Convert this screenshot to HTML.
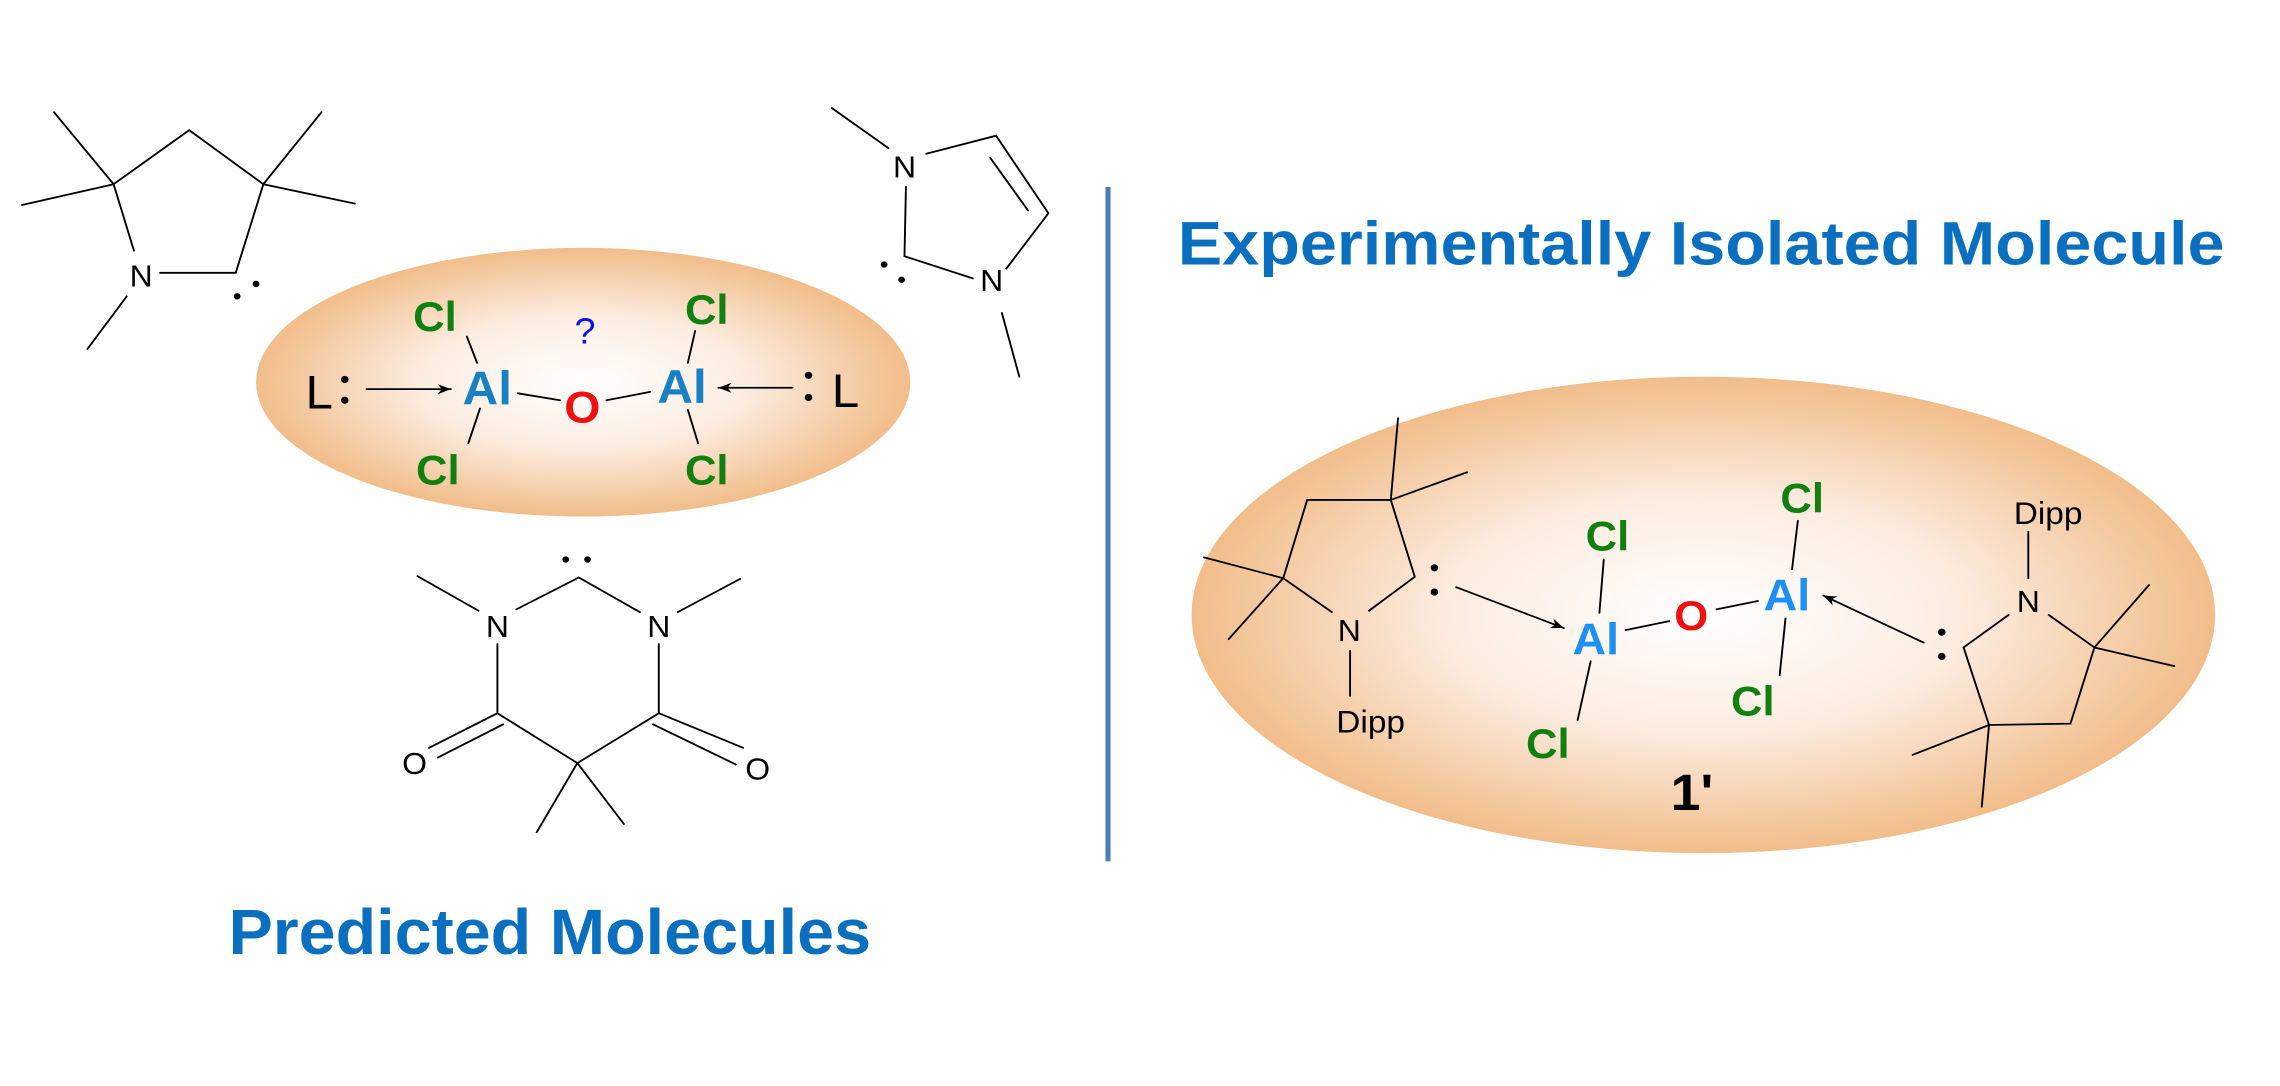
<!DOCTYPE html>
<html><head><meta charset="utf-8"><style>
html,body{margin:0;padding:0;background:#fff}
svg{display:block}
text{font-family:"Liberation Sans",Arial,sans-serif}
.b{stroke:#000;stroke-width:1.3;fill:none;stroke-linecap:round}
.cl{fill:#118011;font-weight:bold}
</style></head><body>
<svg width="2280" height="1086" viewBox="0 0 1568 747" xmlns="http://www.w3.org/2000/svg">
<defs>
<radialGradient id="g" cx="0.5" cy="0.5" r="0.5">
<stop offset="0" stop-color="#ffffff"/>
<stop offset="0.5" stop-color="#fcece0"/>
<stop offset="1" stop-color="#f1bd8a"/>
</radialGradient>
<marker id="ah" viewBox="0 0 10 10" refX="10" refY="5" markerWidth="9" markerHeight="9" orient="auto" markerUnits="userSpaceOnUse"><path d="M0,1 L10,5 L0,9 L3,5Z" fill="#000"/></marker>
</defs>
<g transform="scale(1,0.9526)">
<!-- Left pyrrolidine -->
<g class="b">
<path d="M37,81 L78,133 M15,148 L78,133 M78,133 L130,94 L181,133 L162,197 M110,197 L162,197 M78,133 L92,181 M87,214 L60,252 M181,133 L221,81 M181,133 L244,147"/>
</g>
<text x="97" y="207" font-size="22" text-anchor="middle">N</text>
<circle cx="163" cy="214" r="2.3"/><circle cx="176" cy="205" r="2.3"/>

<!-- Imidazole -->
<g class="b">
<path d="M572,78 L611,107 M637,111 L685,98 L721,154 L692,194 M681,114 L707,152 M623,135 L622,185 L669,201 M689,226 L701,272"/>
</g>
<text x="622" y="128" font-size="22" text-anchor="middle">N</text>
<text x="682" y="210" font-size="22" text-anchor="middle">N</text>
<circle cx="608" cy="191" r="2.3"/><circle cx="620" cy="202" r="2.3"/>

<!-- Left ellipse -->
<ellipse cx="401" cy="276" rx="225" ry="97" fill="url(#g)"/>
<text x="210" y="295" font-size="34">L</text>
<circle cx="237" cy="274" r="2.6"/><circle cx="237" cy="289" r="2.6"/>
<line x1="252" y1="281" x2="310" y2="281" class="b" marker-end="url(#ah)"/>
<text x="318" y="292" font-size="34" font-weight="bold" fill="#1a80c4">Al</text>
<text x="284" y="239" class="cl" font-size="30">Cl</text>
<text x="286" y="350" class="cl" font-size="30">Cl</text>
<g class="b"><path d="M321,243 L328,262 M330,295 L322,320 M356,284 L385,289 M417,289 L447,283 M478,239 L473,262 M473,296 L480,320"/></g>
<text x="388" y="305" font-size="32" font-weight="bold" fill="#ee1111">O</text>
<text x="452" y="291" font-size="34" font-weight="bold" fill="#1a80c4">Al</text>
<text x="471" y="234" class="cl" font-size="30">Cl</text>
<text x="471" y="350" class="cl" font-size="30">Cl</text>
<text x="395" y="248" font-size="26" fill="#1111ee">?</text>
<line x1="545" y1="280" x2="494" y2="280" class="b" marker-end="url(#ah)"/>
<circle cx="556" cy="271" r="2.6"/><circle cx="556" cy="287" r="2.6"/>
<text x="572" y="294" font-size="34">L</text>

<!-- Barbiturate carbene -->
<circle cx="389" cy="404" r="2.3"/><circle cx="404" cy="404" r="2.3"/>
<g class="b">
<path d="M398,417 L355,440 M398,417 L440,442 M287,416 L329,441 M466,442 L509,418 M342,465 L342,515 M453,465 L453,515 M342,515 L397,551 L453,515 M342,515 L295,540 M346,523 L301,547 M453,515 L511,540 M449,523 L506,552 M397,551 L369,601 M397,551 L429,595"/>
</g>
<text x="342" y="460" font-size="22" text-anchor="middle">N</text>
<text x="453" y="460" font-size="22" text-anchor="middle">N</text>
<text x="285" y="559" font-size="22" text-anchor="middle">O</text>
<text x="521" y="563" font-size="22" text-anchor="middle">O</text>

<text x="157" y="689" font-size="46" font-weight="bold" fill="#0b6fbf" textLength="442" lengthAdjust="spacingAndGlyphs">Predicted Molecules</text>

<line x1="762" y1="135" x2="762" y2="622" stroke="#4a7ebb" stroke-width="3.5"/>

<text x="810" y="191" font-size="44" font-weight="bold" fill="#0b6fbf" textLength="720" lengthAdjust="spacingAndGlyphs">Experimentally Isolated Molecule</text>

<!-- Right ellipse -->
<ellipse cx="1171.5" cy="444" rx="352" ry="172" fill="url(#g)"/>
<g class="b">
<path d="M961.5,302 L956.5,361 L1009,341 M956.5,361 L899,361 L882.5,417.5 M956.5,361 L973,416.5 L941.5,441 M882.5,417.5 L828,402.5 M882.5,417.5 L845,461.5 M882.5,417.5 L916,442 M928.5,470 L928.5,502.5"/>
</g>
<text x="928" y="463" font-size="22" text-anchor="middle">N</text>
<text x="919" y="529" font-size="23">Dipp</text>
<circle cx="986.5" cy="410" r="2.6"/><circle cx="986.5" cy="427.5" r="2.6"/>
<line x1="1001.5" y1="424" x2="1075.5" y2="453.5" class="b" marker-end="url(#ah)"/>
<text x="1081.5" y="472.5" font-size="32" font-weight="bold" fill="#1e8ff5">Al</text>
<text x="1090.5" y="397.5" class="cl" font-size="30">Cl</text>
<text x="1049.5" y="547.5" class="cl" font-size="30">Cl</text>
<g class="b"><path d="M1103,404 L1100,442.5 M1094,477.5 L1085,520 M1118,455 L1148,448.5 M1180.5,440 L1209,434 M1236.5,376 L1232.5,411 M1228,446.5 L1224,487.5"/></g>
<text x="1151.5" y="455" font-size="30" font-weight="bold" fill="#ee1111">O</text>
<text x="1213" y="441" font-size="32" font-weight="bold" fill="#1e8ff5">Al</text>
<text x="1224.5" y="370" class="cl" font-size="30">Cl</text>
<text x="1190.5" y="516.5" class="cl" font-size="30">Cl</text>
<line x1="1323" y1="464" x2="1254" y2="430" class="b" marker-end="url(#ah)"/>
<circle cx="1335.5" cy="456.5" r="2.6"/><circle cx="1335.5" cy="474" r="2.6"/>
<text x="1385" y="378.5" font-size="23">Dipp</text>
<g class="b">
<path d="M1395,384 L1395,417.5 M1381.5,444 L1350.5,467.5 L1368,523.5 L1424,522.5 L1440.5,467.5 L1409,444 M1440.5,467.5 L1478,422.5 M1440.5,467.5 L1495.5,481 M1368,523.5 L1315.5,545 M1368,523.5 L1363,582.5"/>
</g>
<text x="1395" y="442" font-size="22" text-anchor="middle">N</text>
<text x="1149" y="585" font-size="37" font-weight="bold">1'</text>
</g>
</svg>
</body></html>
